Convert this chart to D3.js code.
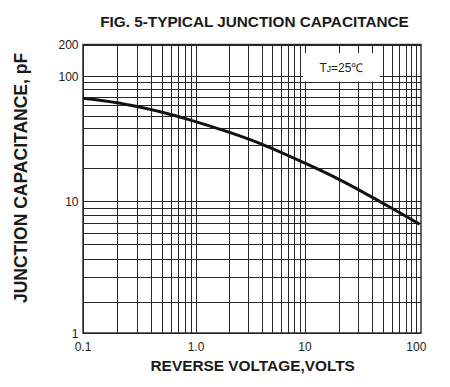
<!DOCTYPE html>
<html lang="en">
<head>
    <meta charset="utf-8">
    <title>Fig. 5 Junction Capacitance</title>
    <script src="https://cdn.jsdelivr.net/npm/d3@7"></script>
    <style>
        body { margin: 0; background: #fff; }
        svg { display: block; font-family: "Liberation Sans", Arial, sans-serif; }
        .grid line { stroke: #262626; stroke-width: 1; shape-rendering: crispEdges; }
        .lbl { fill: #222; font-size: 12px; }
        .ttl { fill: #1a1a1a; font-weight: bold; }
    </style>
</head>
<body>
<svg width="450" height="387"></svg>
<script>
    // values
    var voltage = [0.1, 0.2, 0.3, 0.5, 0.85, 2, 4, 10.7, 20, 37, 56, 107];
    var capacitance = [68, 62.8, 58.6, 53, 46.8, 37.3, 30.2, 21, 15.7, 11.3, 9.2, 6.9];
    var xLabels = [0.1, 1, 10, 100];
    var yLabels = [1, 10, 100, 200];

    var svg = d3.select("svg");
    var pLeft = 83, pRight = 421, pTop = 44.5, pBottom = 333;

    // the printed grid is not quite even, so the log scales get a few knots
    var x = d3.scaleLog().domain([0.1, 1, 10, 110]).range([pLeft, 196, 305, pRight]);
    var y = d3.scaleLog().domain([1, 2, 10, 20, 100, 200]).range([pBottom, 302, 201, 167.5, 76.3, pTop]);

    function snap(v) { return Math.round(v) + 0.5; }

    // grid
    var grid = svg.append("g").attr("class", "grid");
    grid.selectAll("line.v")
        .data(x.ticks(20))
        .enter()
        .append("line")
        .attr("x1", function (d) { return snap(x(d)); })
        .attr("x2", function (d) { return snap(x(d)); })
        .attr("y1", pTop).attr("y2", pBottom);
    grid.selectAll("line.h")
        .data(y.ticks(20))
        .enter()
        .append("line")
        .attr("y1", function (d) { return snap(y(d)); })
        .attr("y2", function (d) { return snap(y(d)); })
        .attr("x1", pLeft).attr("x2", pRight);

    svg.append("rect")
        .attr("x", pLeft).attr("y", pTop)
        .attr("width", pRight - pLeft).attr("height", pBottom - pTop)
        .attr("fill", "none").attr("stroke", "#262626").attr("stroke-width", 1.4);

    // Tj box
    svg.append("rect")
        .attr("x", 303).attr("y", 53).attr("width", 77).attr("height", 28.5)
        .attr("fill", "#fff");
    var tj = svg.append("text")
        .attr("x", 341.5).attr("y", 72).attr("text-anchor", "middle")
        .attr("class", "lbl").style("font-size", "12px");
    tj.append("tspan").text("T");
    tj.append("tspan").text("J").style("font-size", "8.5px");
    tj.append("tspan").text("=25℃");

    // curve
    var pts = voltage.map(function (v, i) { return [v, capacitance[i]]; });
    svg.append("path")
        .datum(pts)
        .attr("fill", "none")
        .attr("stroke", "#111")
        .attr("stroke-width", 3)
        .attr("d", d3.line()
            .x(function (d) { return x(d[0]); })
            .y(function (d) { return y(d[1]); })
            .curve(d3.curveCatmullRom.alpha(0.5)));

    // tick labels
    svg.selectAll("text.xl")
        .data(xLabels)
        .enter()
        .append("text")
        .attr("class", "lbl xl")
        .attr("x", function (d) { return x(d); })
        .attr("y", 351)
        .attr("text-anchor", "middle")
        .text(function (d) { return d === 1 ? "1.0" : d; });
    svg.selectAll("text.yl")
        .data(yLabels)
        .enter()
        .append("text")
        .attr("class", "lbl yl")
        .attr("x", 78.5)
        .attr("y", function (d) { return y(d) + 4.5; })
        .attr("text-anchor", "end")
        .text(function (d) { return d; });

    // titles
    svg.append("text")
        .attr("class", "ttl")
        .attr("x", 254.5).attr("y", 26.7)
        .attr("text-anchor", "middle")
        .style("font-size", "15.3px")
        .text("FIG. 5-TYPICAL JUNCTION CAPACITANCE");
    svg.append("text")
        .attr("class", "ttl")
        .attr("x", 252.7).attr("y", 370.7)
        .attr("text-anchor", "middle")
        .style("font-size", "15.4px")
        .text("REVERSE VOLTAGE,VOLTS");
    svg.append("text")
        .attr("class", "ttl")
        .attr("transform", "translate(27,178) rotate(-90)")
        .attr("text-anchor", "middle")
        .style("font-size", "17.5px")
        .text("JUNCTION CAPACITANCE, pF");
</script>
</body>
</html>
